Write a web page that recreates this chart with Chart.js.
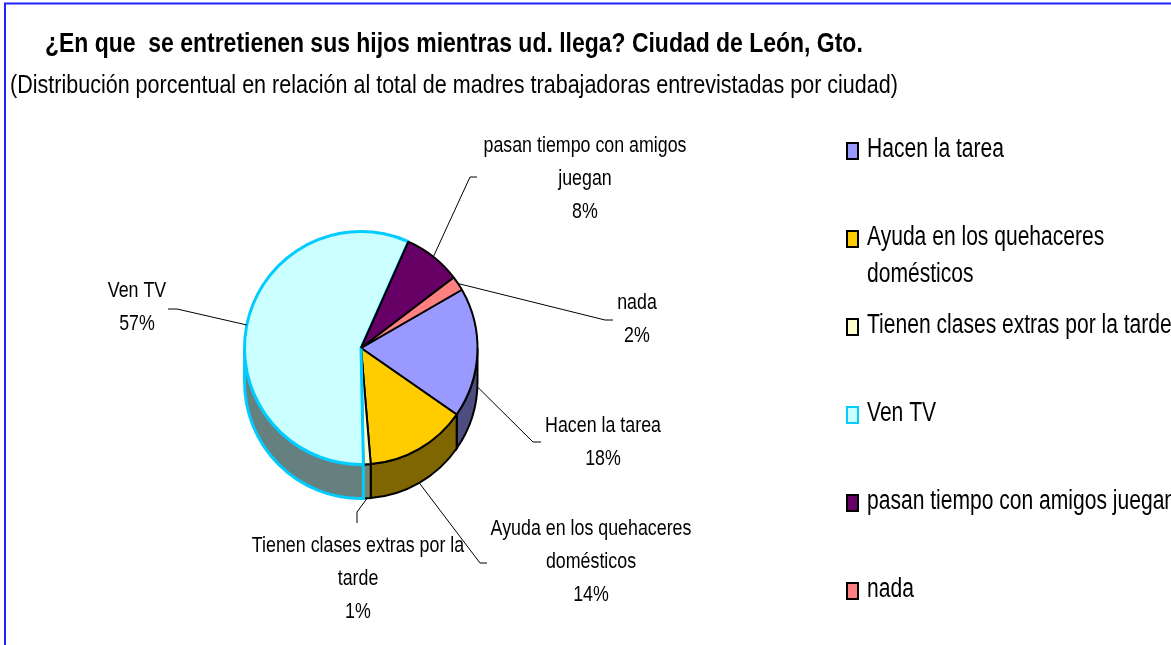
<!DOCTYPE html>
<html>
<head>
<meta charset="utf-8">
<script src="https://cdn.jsdelivr.net/npm/chart.js@4/dist/chart.umd.min.js"></script>
<style>
    html, body { margin: 0; padding: 0; background: #fff; }
    #wrap { width: 1171px; height: 645px; }
</style>
</head>
<body>
<div id="wrap"><canvas id="pieChart" width="1171" height="645"></canvas></div>
<script>
// data
const categories = ["Hacen la tarea", "Ayuda en los quehaceres domésticos", "Tienen clases extras por la tarde", "Ven TV", "pasan tiempo con amigos juegan", "nada"];
const percentages = [18, 14, 1, 57, 8, 2];
const sliceLabelLines = [["Hacen la tarea"], ["Ayuda en los quehaceres", "domésticos"], ["Tienen clases extras por la", "tarde"], ["Ven TV"], ["pasan tiempo con amigos", "juegan"], ["nada"]];
const legendLines = [["Hacen la tarea"], ["Ayuda en los quehaceres", "domésticos"], ["Tienen clases extras por la tarde"], ["Ven TV"], ["pasan tiempo con amigos juegan"], ["nada"]];
const titleText = "¿En que  se entretienen sus hijos mientras ud. llega? Ciudad de León, Gto.";
const subtitleText = "(Distribución porcentual en relación al total de madres trabajadoras entrevistadas por ciudad)";

const topColors = ["#9999FF", "#FFCC00", "#FFFFCC", "#CCFFFF", "#660066", "#FF8080"];
const sideColors = ["#4D4D80", "#806600", "#808066", "#668080", "#330033", "#804040"];
const edgeColors = ["#000000", "#000000", "#000000", "#00CCFF", "#000000", "#000000"];
const edgeWidths = [2, 2, 2, 3, 2, 2];

const FONT = '"Liberation Sans", Arial, sans-serif';
const DEPTH = 34;

// where each outside label sits: text centre x, first baseline, elbow, end of leader
const labelSpots = [
    { x: 603, y: 432, elbow: [533, 442], end: [541, 442] },
    { x: 591, y: 535, elbow: [480, 563], end: [487, 563] },
    { x: 358, y: 552, elbow: [357, 512], end: [357, 523] },
    { x: 137, y: 297, elbow: [177, 309], end: [168, 309] },
    { x: 585, y: 152, elbow: [470, 177], end: [477, 177] },
    { x: 637, y: 309, elbow: [605, 320], end: [613, 320] }
];

function drawText(ctx, text, x, y, font, align, sx) {
    ctx.save();
    ctx.font = font;
    ctx.textAlign = align;
    ctx.textBaseline = "alphabetic";
    ctx.fillStyle = "#000";
    ctx.translate(x, y);
    ctx.scale(sx, 1);
    ctx.fillText(text, 0, 0);
    ctx.restore();
}

// the darker rim under the pie, from each arc's own geometry
const pieSides = {
    id: "pieSides",
    beforeDatasetsDraw(chart) {
        const ctx = chart.ctx;
        const meta = chart.getDatasetMeta(0);
        meta.data.forEach((arc, i) => {
            const p = arc.getProps(["x", "y", "startAngle", "endAngle", "outerRadius"], true);
            const a0 = Math.max(p.startAngle, 0);
            const a1 = Math.min(p.endAngle, Math.PI);
            if (a1 <= a0) return;
            const r = p.outerRadius;
            ctx.save();
            ctx.beginPath();
            ctx.arc(p.x, p.y, r, a0, a1);
            ctx.lineTo(p.x + r * Math.cos(a1), p.y + DEPTH + r * Math.sin(a1));
            ctx.arc(p.x, p.y + DEPTH, r, a1, a0, true);
            ctx.closePath();
            ctx.fillStyle = sideColors[i];
            ctx.fill();
            ctx.lineWidth = edgeWidths[i];
            ctx.strokeStyle = edgeColors[i];
            ctx.stroke();
            ctx.restore();
        });
    }
};

const decorations = {
    id: "decorations",
    afterDraw(chart) {
        const ctx = chart.ctx;
        const meta = chart.getDatasetMeta(0);
        const total = percentages.reduce((a, b) => a + b, 0);

        // frame
        ctx.save();
        ctx.strokeStyle = "#2020ff";
        ctx.lineWidth = 2;
        ctx.beginPath();
        ctx.moveTo(5, 645);
        ctx.lineTo(5, 3.5);
        ctx.lineTo(1171, 3.5);
        ctx.stroke();
        ctx.restore();

        drawText(ctx, titleText, 45, 52, "bold 28px " + FONT, "left", 0.82);
        drawText(ctx, subtitleText, 10, 93, "26px " + FONT, "left", 0.828);

        // outside labels with leader lines
        meta.data.forEach((arc, i) => {
            const p = arc.getProps(["x", "y", "startAngle", "endAngle", "outerRadius"], true);
            const mid = (p.startAngle + p.endAngle) / 2;
            const ax = p.x + p.outerRadius * Math.cos(mid);
            const ay = p.y + p.outerRadius * Math.sin(mid) + (Math.sin(mid) > 0 ? DEPTH : 0);
            const s = labelSpots[i];
            ctx.save();
            ctx.strokeStyle = "#000";
            ctx.lineWidth = 1;
            ctx.beginPath();
            ctx.moveTo(ax, ay);
            ctx.lineTo(s.elbow[0], s.elbow[1]);
            ctx.lineTo(s.end[0], s.end[1]);
            ctx.stroke();
            ctx.restore();
            const lines = sliceLabelLines[i].concat([Math.round(percentages[i] / total * 100) + "%"]);
            lines.forEach((t, k) => drawText(ctx, t, s.x, s.y + k * 33, "22px " + FONT, "center", 0.81));
        });

        // legend
        categories.forEach((c, i) => {
            const base = 157 + i * 88;
            ctx.save();
            ctx.fillStyle = topColors[i];
            ctx.strokeStyle = edgeColors[i];
            ctx.lineWidth = 2;
            ctx.fillRect(847, base - 14, 11, 16);
            ctx.strokeRect(847, base - 14, 11, 16);
            ctx.restore();
            legendLines[i].forEach((t, k) => drawText(ctx, t, 867, base + k * 37, "27px " + FONT, "left", 0.78));
        });
    }
};

const chart = new Chart(document.getElementById("pieChart"), {
    type: "pie",
    data: {
        labels: categories,
        datasets: [{
            data: percentages,
            backgroundColor: topColors,
            borderColor: edgeColors,
            borderWidth: edgeWidths,
            hoverOffset: 0
        }]
    },
    options: {
        responsive: false,
        animation: false,
        events: [],
        rotation: 60,
        layout: { padding: { left: 243, right: 692, top: 230, bottom: 179 } },
        plugins: {
            legend: { display: false },
            tooltip: { enabled: false },
            title: { display: false }
        }
    },
    plugins: [pieSides, decorations]
});
</script>
</body>
</html>
